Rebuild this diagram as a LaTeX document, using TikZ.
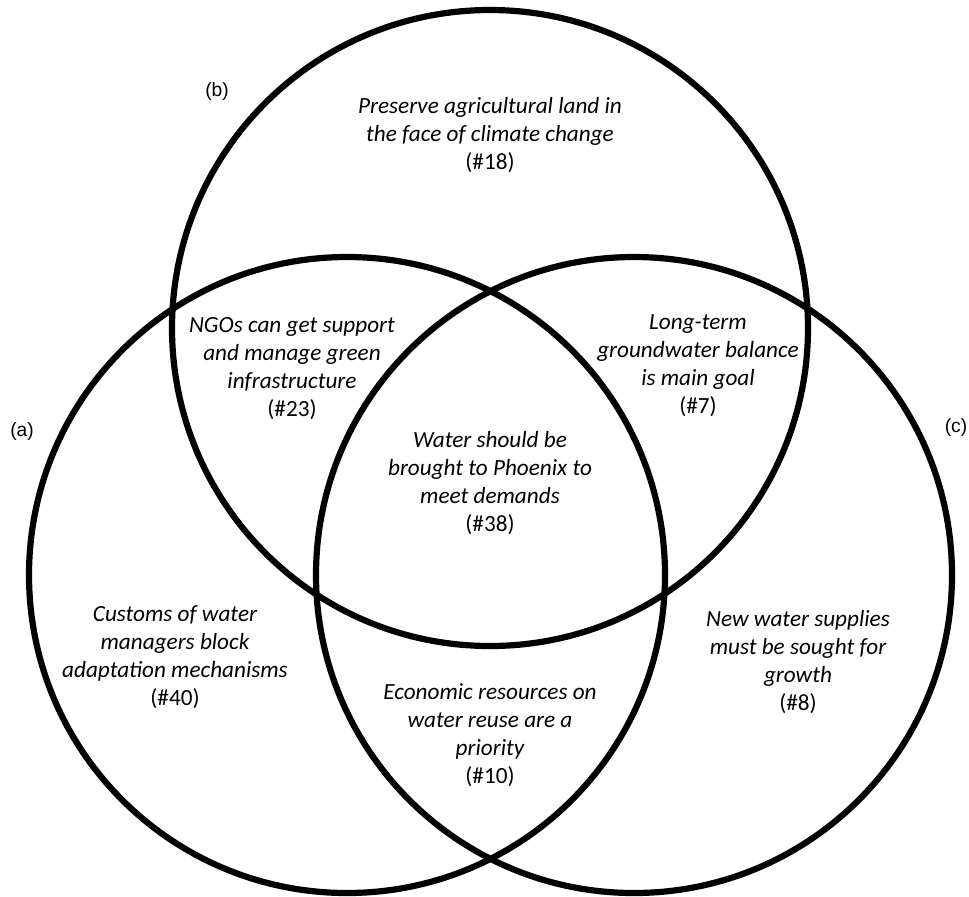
\documentclass[tikz,border=0pt]{standalone}
\usepackage{fontspec}
\setmainfont{Carlito}
\newfontfamily\labelfont{Liberation Sans}
\usepackage{tikz}
\usetikzlibrary{positioning}
\tikzset{
    venn/.style={x=0.5pt, y=-0.5pt},
    venn circle/.style={circle, draw, line width=3.1pt, minimum size=318pt, inner sep=0pt},
    venn text/.style={align=center, font=\itshape\fontsize{11.6}{14}\selectfont},
    venn label/.style={font=\labelfont\fontsize{9.6}{11}\selectfont},
}

\begin{document}
\begin{tikzpicture}[venn]

    \useasboundingbox (0,0) rectangle (969,896);

    % Circles
    \node[venn circle] (setb) at (490,328) {};
    \node[venn circle] (seta) at (347,575) {};
    \node[venn circle] (setc) at (634,575) {};

    % Set labels
    \node[venn label] (labela) at (22,432) {(a)};
    \node[venn label] (labelb) at (217,92) {(b)};
    \node[venn label] (labelc) at (956,428) {(c)};

    % Texts
    \node[venn text] (txt18) at (490,135) {Preserve agricultural land in\\the face of climate change\\\upshape(\#18)};
    \node[venn text] (txt23) at (292,369) {NGOs can get support\\and manage green\\infrastructure\\\upshape(\#23)};
    \node[venn text] (txt7) at (698,366) {Long-term\\groundwater balance\\is main goal\\\upshape(\#7)};
    \node[venn text] (txt38) at (490,483) {Water should be\\brought to Phoenix to\\meet demands\\\upshape(\#38)};
    \node[venn text] (txt40) at (175,657) {Customs of water\\managers block\\adaptation mechanisms\\\upshape(\#40)};
    \node[venn text] (txt10) at (490,735) {Economic resources on\\water reuse are a\\priority\\\upshape(\#10)};
    \node[venn text] (txt8) at (798,662) {New water supplies\\must be sought for\\growth\\\upshape(\#8)};

\end{tikzpicture}
\end{document}
